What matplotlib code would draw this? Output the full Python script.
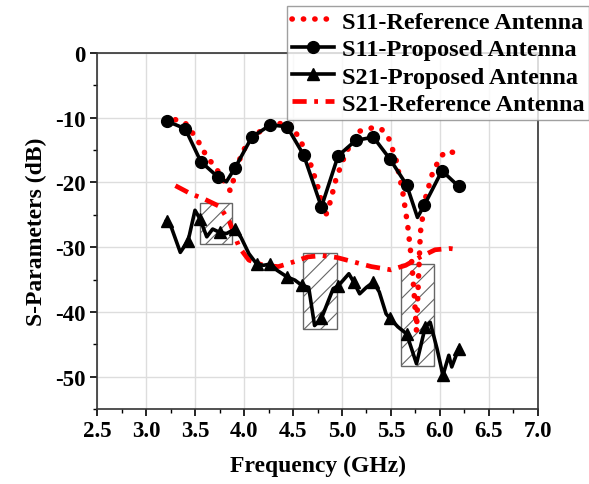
import matplotlib
matplotlib.use("Agg")
import matplotlib.pyplot as plt
from matplotlib.patches import Rectangle
from matplotlib.ticker import MultipleLocator

plt.rcParams['font.family'] = ['Liberation Serif', 'DejaVu Serif']
plt.rcParams['font.weight'] = 'bold'
plt.rcParams['hatch.color'] = '#444444'
plt.rcParams['hatch.linewidth'] = 0.8

# ---- data ----
s11_prop_f = [3.21, 3.40, 3.56, 3.73, 3.82, 3.91, 4.08, 4.27, 4.44, 4.61, 4.79, 4.96,
              5.14, 5.32, 5.49, 5.66, 5.77, 5.84, 6.02, 6.19]
s11_prop_db = [-10.5, -11.7, -16.8, -19.1, -19.9, -17.7, -13.0, -11.1, -11.4, -15.8, -23.8, -15.9,
               -13.5, -13.0, -16.4, -20.4, -25.4, -23.5, -18.2, -20.6]
s11_prop_marks = [0, 1, 2, 3, 5, 6, 7, 8, 9, 10, 11, 12, 13, 14, 15, 17, 18, 19]

s11_ref_f = [3.30, 3.40, 3.52, 3.62, 3.72, 3.81, 3.86, 3.92, 3.98, 4.10, 4.25, 4.45, 4.55,
             4.65, 4.75, 4.83, 4.88, 4.94, 5.03, 5.15, 5.30, 5.40, 5.48, 5.55, 5.62, 5.67,
             5.71, 5.74, 5.76, 5.78, 5.80, 5.85, 5.93, 6.02, 6.08, 6.18]
s11_ref_db = [-10.3, -10.8, -13.3, -16.0, -17.9, -20.2, -21.3, -18.2, -15.3, -12.8, -11.2,
              -10.7, -12.8, -15.8, -20.5, -25.3, -23.0, -19.4, -15.8, -12.2, -11.6, -11.7,
              -13.3, -16.4, -21.5, -26.6, -32.0, -38.0, -43.0, -35.0, -27.7, -22.5, -18.2,
              -15.8, -15.1, -15.6]

s21_prop_f = [3.21, 3.26, 3.35, 3.43, 3.50, 3.55, 3.62, 3.68, 3.75, 3.82, 3.91, 3.97, 4.05,
              4.13, 4.20, 4.27, 4.34, 4.44, 4.52, 4.59, 4.66, 4.72, 4.79, 4.91, 4.96, 5.07,
              5.12, 5.18, 5.25, 5.32, 5.38, 5.45, 5.49, 5.57, 5.66, 5.76, 5.85, 5.90, 5.97,
              6.03, 6.09, 6.12, 6.19]
s21_prop_db = [-25.9, -27.0, -30.8, -29.0, -24.3, -25.6, -28.4, -27.2, -27.7, -27.9, -27.2,
               -28.5, -31.0, -32.6, -32.8, -32.6, -33.6, -34.6, -35.1, -35.9, -36.2, -42.1,
               -41.0, -36.4, -36.0, -34.1, -35.4, -37.2, -36.2, -35.4, -36.9, -40.3, -41.0,
               -42.3, -43.4, -48.0, -42.3, -41.6, -45.7, -49.8, -46.7, -48.5, -45.7]
s21_prop_marks = [0, 3, 5, 8, 10, 13, 15, 17, 19, 22, 24, 26, 29, 32, 34, 36, 39, 42]

s21_ref_f = [3.30, 3.45, 3.60, 3.75, 3.85, 3.95, 4.05, 4.20, 4.35, 4.50, 4.65, 4.80, 4.95,
             5.10, 5.30, 5.50, 5.65, 5.80, 5.95, 6.10, 6.20]
s21_ref_db = [-20.5, -21.7, -22.6, -23.7, -26.0, -30.0, -32.0, -32.8, -33.0, -32.3, -31.5,
              -31.3, -31.6, -32.2, -33.0, -33.5, -32.8, -31.5, -30.4, -30.2, -30.4]

# hatched highlight boxes: (f_start, f_end, dB_low, dB_high)
box_f0 = [3.55, 4.605, 5.60]
box_f1 = [3.88, 4.95, 5.94]
box_lo = [-29.5, -42.7, -48.3]
box_hi = [-23.2, -30.9, -32.6]

x_ticks = [2.5, 3.0, 3.5, 4.0, 4.5, 5.0, 5.5, 6.0, 6.5, 7.0]
y_ticks = [0, -10, -20, -30, -40, -50]

# ---- figure ----
fig = plt.figure(figsize=(5.89, 4.85), dpi=100)
ax = fig.add_axes([0.1647, 0.1546, 0.7487, 0.7341])

for f0, f1, lo, hi in zip(box_f0, box_f1, box_lo, box_hi):
    ax.add_patch(Rectangle((f0, lo), f1 - f0, hi - lo, fill=False, edgecolor='#666666',
                           hatch='//', linewidth=1.0, zorder=2))

ax.plot(s11_ref_f, s11_ref_db, color='red', linestyle=(0, (0.05, 2.0)), linewidth=4.0,
        dash_capstyle='round', label='S11-Reference Antenna', zorder=3)
ax.plot(s11_prop_f, s11_prop_db, color='black', linewidth=2.6, marker='o', markersize=8.5,
        markevery=s11_prop_marks, label='S11-Proposed Antenna', zorder=4)
ax.plot(s21_prop_f, s21_prop_db, color='black', linewidth=2.6, marker='^', markersize=8.5,
        markevery=s21_prop_marks, label='S21-Proposed Antenna', zorder=4)
ax.plot(s21_ref_f, s21_ref_db, color='red', linestyle=(0, (3.0, 1.6, 0.8, 1.6)),
        linewidth=3.4, label='S21-Reference Antenna', zorder=3)

ax.set_xlim(2.5, 7.0)
ax.set_ylim(-55, 0)
ax.set_xticks(x_ticks)
ax.set_xticklabels([f"{v:.1f}" for v in x_ticks])
ax.set_yticks(y_ticks)
ax.set_yticklabels([f"{v:d}" for v in y_ticks])
ax.xaxis.set_minor_locator(MultipleLocator(0.25))
ax.yaxis.set_minor_locator(MultipleLocator(5))
ax.grid(True, which='major', color='#dddddd', linewidth=1.0)
ax.set_axisbelow(True)
ax.tick_params(which='major', direction='out', length=5, width=1.2, labelsize=16.5, pad=3)
ax.tick_params(which='minor', direction='out', length=3, width=1.0)
ax.tick_params(top=False, right=False)
for sp in ax.spines.values():
    sp.set_linewidth(1.2)
    sp.set_color('#333333')

ax.set_xlabel('Frequency (GHz)', fontsize=17, fontweight='bold', labelpad=10)
ax.set_ylabel('S-Parameters (dB)', fontsize=17, fontweight='bold', labelpad=6)

leg = ax.legend(loc='upper right', bbox_to_anchor=(1.0, 1 - 7 / 485),
                bbox_transform=fig.transFigure, frameon=True, fancybox=False,
                edgecolor='#888888', handlelength=1.75, handletextpad=0.3, borderpad=0.2,
                labelspacing=0.22, borderaxespad=0.0, prop={'weight': 'bold', 'size': 17.5})
leg.get_frame().set_linewidth(1.0)
leg.set_zorder(10)

fig.savefig('out.png', dpi=100)
